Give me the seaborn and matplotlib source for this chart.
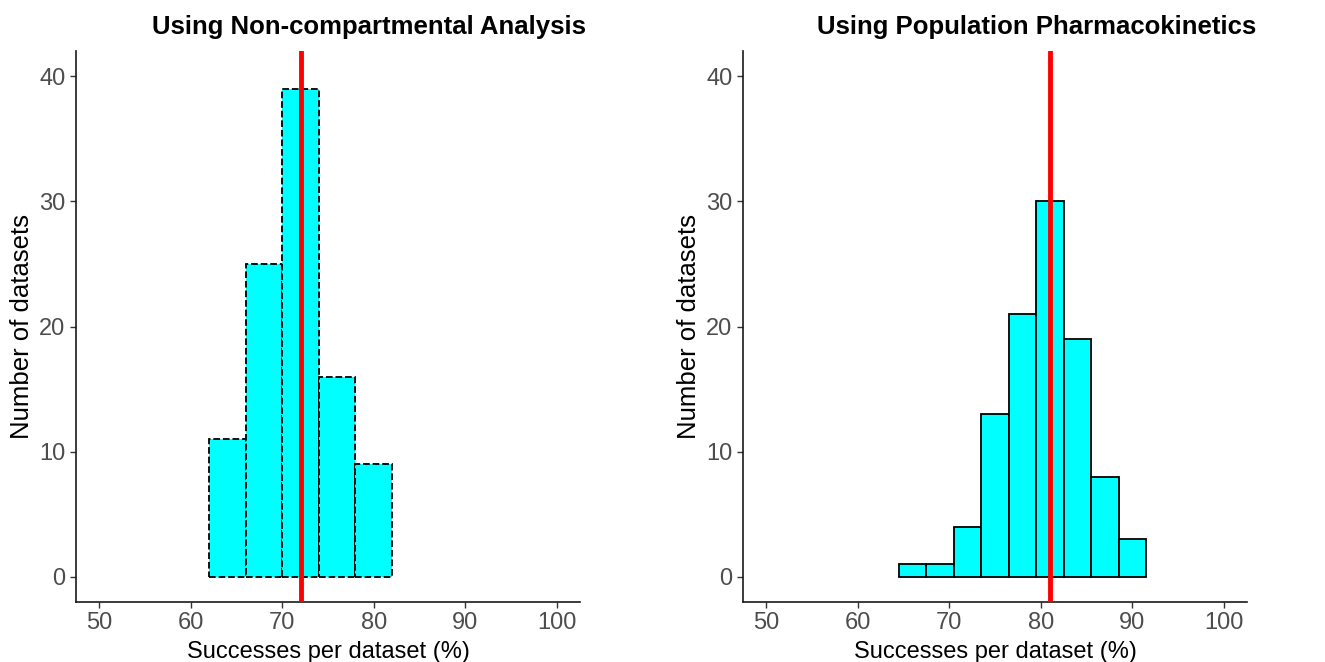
"""
Histograms of per-dataset success rates: NCA vs population PK.
"""

import numpy as np
import pandas as pd
import matplotlib
matplotlib.use("Agg")
import matplotlib.pyplot as plt
import seaborn as sns

# NCA panel: bin edges and counts
nca_edges = [62, 66, 70, 74, 78, 82]
nca_counts = [11, 25, 39, 16, 9]
nca_mean = 72.0

# Pop PK panel
popk_edges = [64.5, 67.5, 70.5, 73.5, 76.5, 79.5, 82.5, 85.5, 88.5, 91.5]
popk_counts = [1, 1, 4, 13, 21, 30, 19, 8, 3]
popk_mean = 81.0

titles = ["Using Non-compartmental Analysis", "Using Population Pharmacokinetics"]
x_ticks = [50, 60, 70, 80, 90, 100]
y_ticks = [0, 10, 20, 30, 40]

sns.set_style("ticks")
plt.rcParams["font.family"] = ["Liberation Sans", "DejaVu Sans"]


def panel(ax, edges, counts, mean, title, linestyle):
    e = np.asarray(edges, dtype=float)
    df = pd.DataFrame({
        "mid": (e[:-1] + e[1:]) / 2,
        "n": counts,
    })
    sns.histplot(
        data=df, x="mid", weights="n", bins=list(edges),
        color="#00FFFF", alpha=1, edgecolor="black",
        linewidth=1.3, linestyle=linestyle, ax=ax
    )
    ax.axvline(mean, color="#FF0000", linewidth=3.5, zorder=5)

    ax.set_xlim(47.5, 102.5)
    ax.set_ylim(-2, 42)
    ax.set_xticks(x_ticks)
    ax.set_yticks(y_ticks)
    ax.tick_params(labelsize=17, colors="#333333", length=4, width=1,
                   labelcolor="#4D4D4D")
    for s in ["left", "bottom"]:
        ax.spines[s].set_linewidth(1.2)
        ax.spines[s].set_color("#1A1A1A")
    sns.despine(ax=ax)
    ax.set_xlabel("Successes per dataset (%)", fontsize=17, labelpad=5,
                  color="black")
    ax.set_ylabel("Number of datasets", fontsize=18.5, labelpad=4,
                  color="black")
    # titles sit a bit right of the panel centre in the original
    ax.set_title(title, fontsize=18.5, fontweight="bold", pad=12,
                 color="black", x=0.582)


fig = plt.figure(figsize=(13.25, 6.62), dpi=100)
ax1 = fig.add_axes([76 / 1325, 1 - 602 / 662, 504 / 1325, 551 / 662])
ax2 = fig.add_axes([743 / 1325, 1 - 602 / 662, 504 / 1325, 551 / 662])

panel(ax1, nca_edges, nca_counts, nca_mean, titles[0], "--")
panel(ax2, popk_edges, popk_counts, popk_mean, titles[1], "-")

fig.savefig("out.png", dpi=100)
